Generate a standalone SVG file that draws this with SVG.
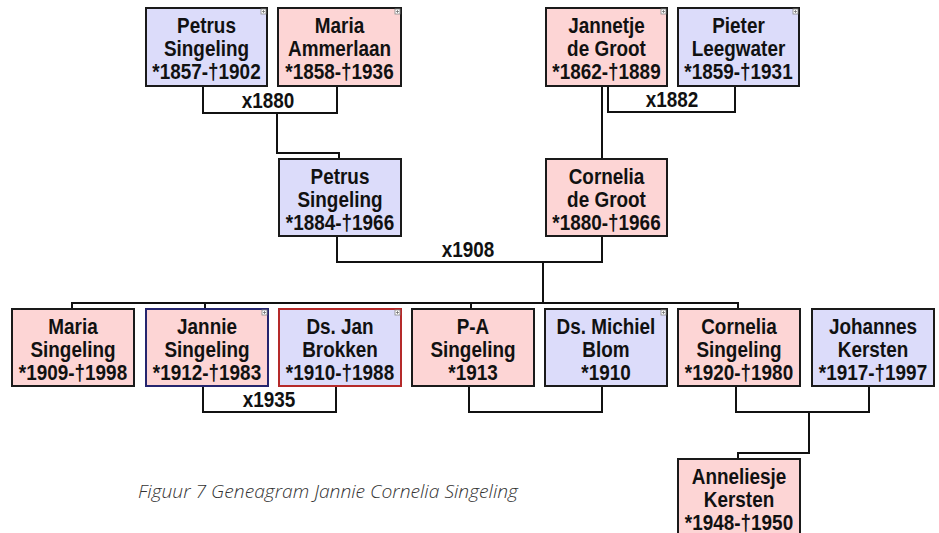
<svg xmlns="http://www.w3.org/2000/svg" width="939" height="533" viewBox="0 0 939 533">
<style>
.m{fill:#dcdcfa;stroke:#1a1a1a;stroke-width:2}
.f{fill:#fdd5d5;stroke:#1a1a1a;stroke-width:2}
.t{font-family:"Liberation Sans",Arial,sans-serif;font-weight:bold;font-size:22px;fill:#111;text-anchor:middle}
.c{fill:none;stroke:#111;stroke-width:2}
.ic{fill:#fff;stroke:#888;stroke-width:0.8}
.cap{font-family:"Open Sans","Noto Sans",sans-serif;font-style:italic;font-weight:300;font-size:18px;fill:#333}
</style>
<defs>
<g id="plus"><rect class="ic" x="-6" y="1" width="5" height="5"/><path d="M-5,3.5h3M-3.5,2v3" stroke="#666" stroke-width="0.7"/></g>
</defs>
<rect width="939" height="533" fill="#fff"/>
<g id="connectors" class="c">
<path d="M203,86V113H337V86"/>
<path d="M277,113V153H339V159"/>
<path d="M602,86V159"/>
<path d="M608,86V112H735V86"/>
<path d="M337,236V262H602V236"/>
<path d="M543,262V303"/>
<path d="M72,309V303H738V309M205,303V309M471,303V309"/>
<path d="M203,386V412H336V386"/>
<path d="M469,386V412H602V386"/>
<path d="M736,386V412H869V386"/>
<path d="M809,412V453H738V459"/>
</g>
<g id="labels">
<text class="t" transform="translate(268,108) scale(0.86,1)">x1880</text>
<text class="t" transform="translate(672,107) scale(0.86,1)">x1882</text>
<text class="t" transform="translate(468,257) scale(0.86,1)">x1908</text>
<text class="t" transform="translate(269,407) scale(0.86,1)">x1935</text>
</g>
<g id="petrus-1857"><rect class="m" x="146" y="8" width="121" height="78"/><use href="#plus" x="267" y="8"/><text class="t" transform="translate(206.5,0) scale(0.86,1)"><tspan x="0" y="33">Petrus</tspan><tspan x="0" y="56">Singeling</tspan><tspan x="0" y="79">*1857-†1902</tspan></text></g>
<g id="maria-1858"><rect class="f" x="278" y="8" width="123" height="78"/><use href="#plus" x="401" y="8"/><text class="t" transform="translate(339.5,0) scale(0.86,1)"><tspan x="0" y="33">Maria</tspan><tspan x="0" y="56">Ammerlaan</tspan><tspan x="0" y="79">*1858-†1936</tspan></text></g>
<g id="jannetje-1862"><rect class="f" x="546" y="8" width="121" height="78"/><use href="#plus" x="667" y="8"/><text class="t" transform="translate(606.5,0) scale(0.86,1)"><tspan x="0" y="33">Jannetje</tspan><tspan x="0" y="56">de Groot</tspan><tspan x="0" y="79">*1862-†1889</tspan></text></g>
<g id="pieter-1859"><rect class="m" x="678" y="8" width="121" height="78"/><use href="#plus" x="799" y="8"/><text class="t" transform="translate(738.5,0) scale(0.86,1)"><tspan x="0" y="33">Pieter</tspan><tspan x="0" y="56">Leegwater</tspan><tspan x="0" y="79">*1859-†1931</tspan></text></g>
<g id="petrus-1884"><rect class="m" x="279" y="159" width="122" height="77"/><text class="t" transform="translate(340,0) scale(0.86,1)"><tspan x="0" y="184">Petrus</tspan><tspan x="0" y="207">Singeling</tspan><tspan x="0" y="230">*1884-†1966</tspan></text></g>
<g id="cornelia-1880"><rect class="f" x="546" y="159" width="121" height="77"/><text class="t" transform="translate(606.5,0) scale(0.86,1)"><tspan x="0" y="184">Cornelia</tspan><tspan x="0" y="207">de Groot</tspan><tspan x="0" y="230">*1880-†1966</tspan></text></g>
<g id="maria-1909"><rect class="f" x="12" y="309" width="122" height="77"/><text class="t" transform="translate(73,0) scale(0.86,1)"><tspan x="0" y="334">Maria</tspan><tspan x="0" y="357">Singeling</tspan><tspan x="0" y="380">*1909-†1998</tspan></text></g>
<g id="jannie-1912"><rect class="f" x="146" y="309" width="122" height="77" style="stroke:#25256e"/><use href="#plus" x="268" y="309"/><text class="t" transform="translate(207,0) scale(0.86,1)"><tspan x="0" y="334">Jannie</tspan><tspan x="0" y="357">Singeling</tspan><tspan x="0" y="380">*1912-†1983</tspan></text></g>
<g id="jan-1910"><rect class="m" x="279" y="309" width="122" height="77" style="stroke:#b52a2a"/><use href="#plus" x="401" y="309"/><text class="t" transform="translate(340,0) scale(0.86,1)"><tspan x="0" y="334">Ds. Jan</tspan><tspan x="0" y="357">Brokken</tspan><tspan x="0" y="380">*1910-†1988</tspan></text></g>
<g id="pa-1913"><rect class="f" x="412" y="309" width="122" height="77"/><text class="t" transform="translate(473,0) scale(0.86,1)"><tspan x="0" y="334">P-A</tspan><tspan x="0" y="357">Singeling</tspan><tspan x="0" y="380">*1913</tspan></text></g>
<g id="michiel-1910"><rect class="m" x="545" y="309" width="122" height="77"/><use href="#plus" x="667" y="309"/><text class="t" transform="translate(606,0) scale(0.86,1)"><tspan x="0" y="334">Ds. Michiel</tspan><tspan x="0" y="357">Blom</tspan><tspan x="0" y="380">*1910</tspan></text></g>
<g id="cornelia-1920"><rect class="f" x="678" y="309" width="122" height="77"/><text class="t" transform="translate(739,0) scale(0.86,1)"><tspan x="0" y="334">Cornelia</tspan><tspan x="0" y="357">Singeling</tspan><tspan x="0" y="380">*1920-†1980</tspan></text></g>
<g id="johannes-1917"><rect class="m" x="812" y="309" width="122" height="77"/><text class="t" transform="translate(873,0) scale(0.86,1)"><tspan x="0" y="334">Johannes</tspan><tspan x="0" y="357">Kersten</tspan><tspan x="0" y="380">*1917-†1997</tspan></text></g>
<g id="anneliesje-1948"><rect class="f" x="678" y="459" width="122" height="80"/><text class="t" transform="translate(739,0) scale(0.86,1)"><tspan x="0" y="484">Anneliesje</tspan><tspan x="0" y="507">Kersten</tspan><tspan x="0" y="530">*1948-†1950</tspan></text></g>
<text class="cap" x="138" y="498" textLength="380" lengthAdjust="spacingAndGlyphs">Figuur 7 Geneagram Jannie Cornelia Singeling</text>
</svg>
